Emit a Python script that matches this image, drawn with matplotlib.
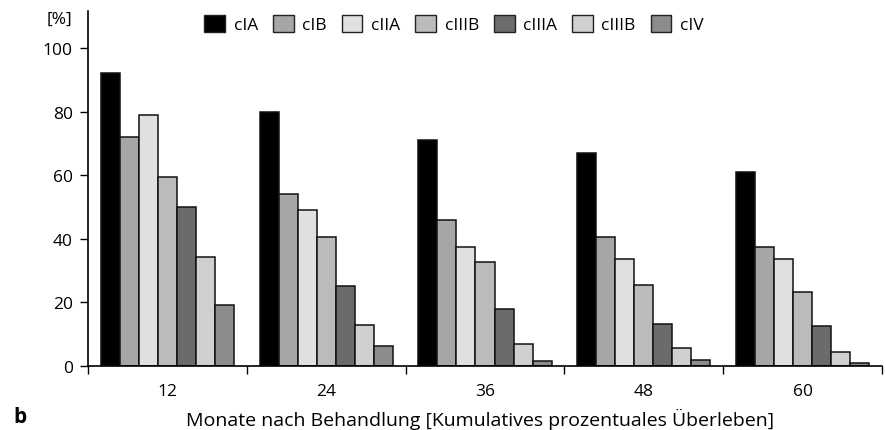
import numpy as np
import matplotlib
matplotlib.use('Agg')
import matplotlib.pyplot as plt
from matplotlib.patches import Patch

plt.rcParams['font.family'] = ['Open Sans', 'DejaVu Sans']

months = ['12', '24', '36', '48', '60']
stages = ['cIA', 'cIB', 'cIIA', 'cIIIB', 'cIIIA', 'cIIIB', 'cIV']
colors = ['#000000', '#a6a6a6', '#e0e0e0', '#bbbbbb', '#6b6b6b', '#d0d0d0', '#8c8c8c']

# survival in percent, one row per stage, one column per month
survival = [
    [92, 80, 71, 67, 61],
    [72, 54, 46, 40.7, 37.4],
    [79, 49, 37.5, 33.7, 33.5],
    [59.3, 40.7, 32.6, 25.6, 23.3],
    [50, 25, 18, 13.2, 12.7],
    [34.2, 13, 6.9, 5.7, 4.4],
    [19.2, 6.3, 1.7, 1.8, 0.8],
]

fig = plt.figure(figsize=(8.86, 4.31), dpi=100)
ax = fig.add_axes([88/886, (431-367)/431, (882-88)/886, (367-12)/431])

width = 0.12
start = 0.08
for i, vals in enumerate(survival):
    x = np.arange(len(months)) + start + width * (i + 0.5)
    ax.bar(x, vals, width, color=colors[i], edgecolor='#111111', linewidth=1.1)

ax.set_xlim(0, len(months))
ax.set_ylim(0, 111.6)
ax.set_yticks([0, 20, 40, 60, 80, 100])
ax.set_xticks(np.arange(len(months) + 1))
ax.set_xticklabels([])
ax.set_xticks(np.arange(len(months)) + 0.5, minor=True)
ax.set_xticklabels(months, minor=True)
ax.tick_params(axis='x', which='minor', length=0, pad=12, labelsize=12.5)
ax.tick_params(axis='x', which='major', length=6, width=1, direction='out')
ax.tick_params(axis='y', length=6, width=1, labelsize=12.5, pad=5)

for s in ['top', 'right']:
    ax.spines[s].set_visible(False)
ax.spines['left'].set_linewidth(1.2)
ax.spines['bottom'].set_linewidth(1.2)

fig.text(72/886, 1 - 20/431, '[%]', ha='right', va='center', fontsize=12.5)

handles = [Patch(facecolor=c, edgecolor='#222222', linewidth=1.0) for c in colors]
fig.legend(handles, stages, loc='center', bbox_to_anchor=(454/886, 1 - 25/431), ncol=7,
           frameon=False, fontsize=12.5, handlelength=1.2, handleheight=1.2,
           handletextpad=0.5, columnspacing=0.85, borderpad=0)

fig.text(480/886, 1 - 419/431, 'Monate nach Behandlung [Kumulatives prozentuales Überleben]',
         ha='center', va='center', fontsize=14)
fig.text(13/886, 1 - 418/431, 'b', ha='left', va='center', fontsize=15, fontweight='bold')

fig.savefig('out.png', dpi=100)
